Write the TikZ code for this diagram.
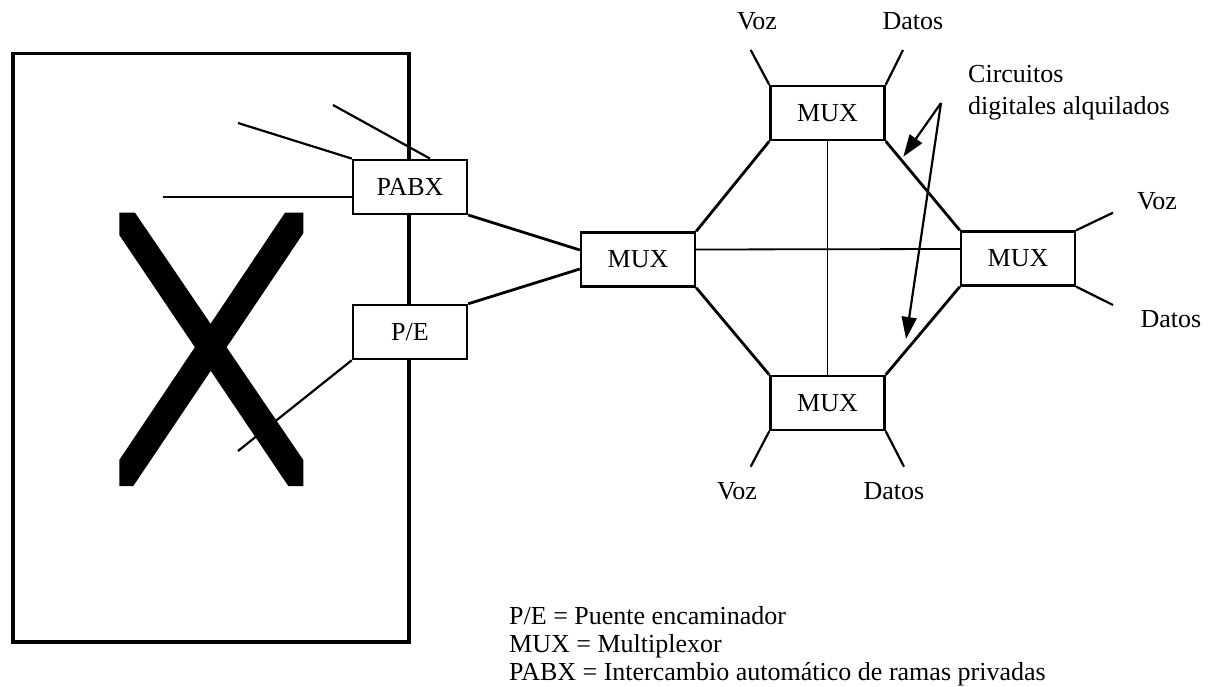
\documentclass[tikz,border=0pt]{standalone}
\usepackage{fontspec}
\setmainfont{Liberation Serif}
\usetikzlibrary{calc,arrows.meta}
\begin{document}
\begin{tikzpicture}[x=1pt,y=-1pt,
  txt/.style={font=\fontsize{26}{28}\selectfont},
  box/.style={txt,draw,line width=2.4pt,fill=white,minimum width=114pt,minimum height=54pt,inner sep=0pt},
  lbl/.style={txt,inner sep=0pt,anchor=base},
  leg/.style={txt,inner sep=0pt,anchor=base west},
  link/.style={line width=2.8pt},
  thinlink/.style={line width=1.8pt},
  stub/.style={line width=2.2pt},
  arr/.style={line width=2.2pt,-{Triangle[length=22pt,width=15pt]}}]
\useasboundingbox (0,0) rectangle (1211,687);
% outer box
\draw[line width=3.2pt] (13,53.5) rectangle (409,642);
% big X
\fill (119.3,212.7) -- (135,212.7) -- (303.3,460) -- (303.3,486) -- (288.3,486) -- (119.3,235) -- cycle;
\fill (285,212.7) -- (303.3,212.7) -- (303.3,233.3) -- (133.3,486) -- (119.3,486) -- (119.3,460) -- cycle;
% nodes
\node[box] (pabx) at (410,186.8) {PABX};
\node[box] (pe) at (410,332) {P/E};
\node[box] (muxc) at (638,259.5) {MUX};
\node[box] (muxt) at (827.5,113) {MUX};
\node[box] (muxr) at (1018,258.5) {MUX};
\node[box] (muxb) at (827.5,403) {MUX};
% free ends
\coordinate (l1) at (333,105);
\coordinate (l2) at (238,123);
\coordinate (l3) at (163,197);
\coordinate (l4) at (238,451);
\coordinate (tv) at (750.7,50);
\coordinate (td) at (903,50);
\coordinate (rv) at (1113,212.7);
\coordinate (rd) at (1113,305);
\coordinate (bv) at (750.7,466.7);
\coordinate (bd) at (904,466.7);
\coordinate (src) at (941,103);
\coordinate (tip1) at (903.3,156.7);
\coordinate (tip2) at (906,339);
% lines into PABX / P/E
\draw[stub] (l1) -- ($(pabx.north)+(20,0)$);
\draw[stub] (l2) -- (pabx.north west);
\draw[stub] (l3) -- (l3 -| pabx.west);
\draw[stub] (l4) -- (pe.south west);
% links to central MUX
\draw[link] (pabx.south east) -- ($(muxc.west)+(0,-9.5)$);
\draw[link] (pe.north east) -- ($(muxc.west)+(0,9.5)$);
% octagon ring
\draw[link] (muxc.north east) -- (muxt.south west);
\draw[link] (muxt.south east) -- (muxr.north west);
\draw[link] (muxr.south west) -- (muxb.north east);
\draw[link] (muxb.north west) -- (muxc.south east);
% cross links
\draw[thinlink] ($(muxc.east)+(0,-10)$) -- ($(muxr.west)+(0,-9.5)$);
\draw[thinlink] (muxt.south) -- (muxb.north);
% stubs
\draw[stub] (muxt.north west) -- (tv);
\draw[stub] (muxt.north east) -- (td);
\draw[stub] (muxr.north east) -- (rv);
\draw[stub] (muxr.south east) -- (rd);
\draw[stub] (muxb.south west) -- (bv);
\draw[stub] (muxb.south east) -- (bd);
% arrows
\draw[arr] (src) -- (tip1);
\draw[arr] (src) -- (tip2);
% labels
\node[lbl] (tvl) at (757,30) {Voz};
\node[lbl] (tdl) at (913,30) {Datos};
\node[lbl] (rvl) at (1157,210) {Voz};
\node[lbl] (rdl) at (1171,327) {Datos};
\node[lbl] (bvl) at (737,499) {Voz};
\node[lbl] (bdl) at (894,499) {Datos};
\node[leg] (c1) at (968,83) {Circuitos};
\node[leg] (c2) at (968,114.5) {digitales alquilados};
% legend
\node[leg] (g1) at (509,624) {P/E = Puente encaminador};
\node[leg] (g2) at (509,652) {MUX = Multiplexor};
\node[leg] (g3) at (509,680) {PABX = Intercambio automático de ramas privadas};
\end{tikzpicture}
\end{document}
